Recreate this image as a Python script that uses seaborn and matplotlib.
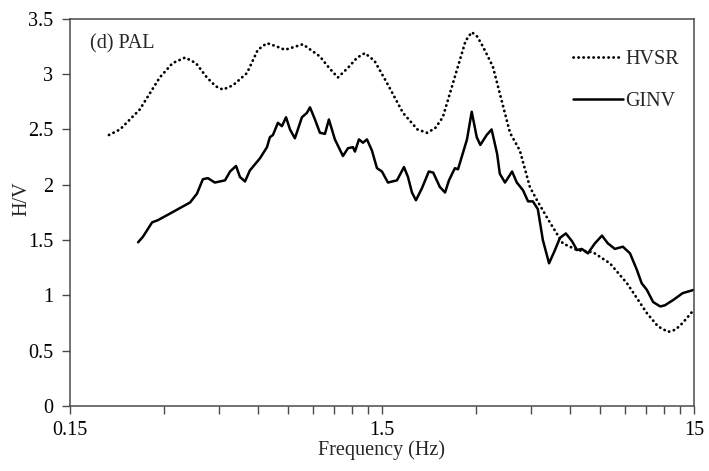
import numpy as np
import pandas as pd
import seaborn as sns
import matplotlib
matplotlib.use("Agg")
import matplotlib.pyplot as plt
from matplotlib.ticker import FixedLocator, FuncFormatter, NullFormatter
from matplotlib.lines import Line2D

# ---- data ----
hvsr_freq = [0.20, 0.217, 0.251, 0.291, 0.32, 0.351, 0.38, 0.412, 0.44, 0.464,
             0.50, 0.554, 0.60, 0.642, 0.69, 0.733, 0.837, 0.949, 1.02, 1.084,
             1.17, 1.25, 1.323, 1.42, 1.557, 1.752, 1.95, 2.09, 2.22, 2.35,
             2.61, 2.78, 2.91, 3.03, 3.16, 3.40, 3.86, 4.15, 4.47, 4.71,
             5.18, 5.70, 6.33, 7.12, 8.07, 9.15, 10.6, 11.5, 12.4, 13.1,
             13.8, 15.0]
hvsr_val = [2.45, 2.50, 2.68, 2.97, 3.10, 3.15, 3.10, 2.97, 2.89, 2.86,
            2.90, 3.01, 3.22, 3.28, 3.25, 3.22, 3.27, 3.16, 3.05, 2.97,
            3.06, 3.15, 3.19, 3.12, 2.92, 2.65, 2.50, 2.47, 2.51, 2.61,
            3.04, 3.30, 3.38, 3.34, 3.25, 3.07, 2.47, 2.31, 1.98, 1.86,
            1.66, 1.47, 1.41, 1.39, 1.29, 1.11, 0.84, 0.72, 0.67, 0.69,
            0.75, 0.87]

ginv_freq = [0.248, 0.257, 0.275, 0.287, 0.314, 0.338, 0.364, 0.383, 0.400, 0.415,
             0.437, 0.471, 0.489, 0.511, 0.526, 0.546, 0.566, 0.610, 0.642, 0.656,
             0.671, 0.696, 0.717, 0.739, 0.761, 0.789, 0.831, 0.862, 0.882, 0.915,
             0.949, 0.985, 1.014, 1.060, 1.125, 1.167, 1.211, 1.229, 1.266, 1.304,
             1.343, 1.393, 1.446, 1.50, 1.568, 1.676, 1.765, 1.818, 1.872, 1.928,
             2.016, 2.12, 2.19, 2.30, 2.39, 2.46, 2.57, 2.63, 2.81, 2.91,
             3.02, 3.10, 3.25, 3.37, 3.51, 3.58, 3.72, 3.92, 4.06, 4.25,
             4.41, 4.57, 4.74, 4.92, 5.15, 5.38, 5.58, 5.83, 6.10, 6.33,
             6.56, 6.86, 7.22, 7.61, 7.95, 8.37, 8.88, 9.36, 9.85, 10.2,
             10.6, 11.1, 11.7, 12.1, 12.9, 13.8, 15.0]
ginv_val = [1.48, 1.53, 1.66, 1.68, 1.74, 1.79, 1.84, 1.92, 2.05, 2.06,
            2.02, 2.04, 2.12, 2.17, 2.07, 2.03, 2.13, 2.24, 2.34, 2.43,
            2.45, 2.56, 2.53, 2.61, 2.50, 2.42, 2.61, 2.65, 2.70, 2.59,
            2.47, 2.46, 2.59, 2.41, 2.26, 2.33, 2.34, 2.30, 2.41, 2.38,
            2.41, 2.31, 2.15, 2.12, 2.02, 2.04, 2.16, 2.07, 1.93, 1.86,
            1.97, 2.12, 2.11, 1.98, 1.93, 2.04, 2.15, 2.14, 2.41, 2.66,
            2.43, 2.36, 2.45, 2.50, 2.28, 2.10, 2.02, 2.12, 2.02, 1.95,
            1.85, 1.85, 1.78, 1.50, 1.29, 1.41, 1.52, 1.56, 1.49, 1.41,
            1.42, 1.38, 1.47, 1.54, 1.47, 1.42, 1.44, 1.38, 1.23, 1.11,
            1.05, 0.94, 0.90, 0.91, 0.96, 1.02, 1.05]

x_major = [0.15, 1.5, 15]
y_ticks = [0, 0.5, 1, 1.5, 2, 2.5, 3, 3.5]
series_names = ["HVSR", "GINV"]
panel_label = "(d) PAL"

# ---- style ----
sns.set_style("ticks")
plt.rcParams["font.family"] = ["Liberation Serif", "DejaVu Serif"]
FS = 14.5
plt.rcParams["font.size"] = FS

fig = plt.figure(figsize=(7.09, 4.71), dpi=100)
ax = fig.add_axes([0.0987, 0.138, 0.880, 0.822])

hv = pd.DataFrame({"f": hvsr_freq, "v": hvsr_val})
gi = pd.DataFrame({"f": ginv_freq, "v": ginv_val})

dot_style = (0, (0.1, 1.7))
dot_lw = 2.0
solid_lw = 1.8
sns.lineplot(data=hv, x="f", y="v", ax=ax, color="black", linewidth=dot_lw,
             linestyle=dot_style, dash_capstyle="round", sort=False,
             estimator=None)
sns.lineplot(data=gi, x="f", y="v", ax=ax, color="black", linewidth=solid_lw,
             sort=False, estimator=None, solid_joinstyle="round")

ax.set_xscale("log")
ax.set_xlim(0.15, 15)
ax.set_ylim(0, 3.5)

minor = [k * 0.15 for k in range(2, 10)] + [k * 1.5 for k in range(2, 10)]
ax.xaxis.set_major_locator(FixedLocator(x_major))
ax.xaxis.set_major_formatter(FuncFormatter(lambda v, p: f"{v:g}"))
ax.xaxis.set_minor_locator(FixedLocator(minor))
ax.xaxis.set_minor_formatter(NullFormatter())
ax.yaxis.set_major_locator(FixedLocator(y_ticks))
ax.yaxis.set_major_formatter(FuncFormatter(lambda v, p: f"{v:g}"))

spine_c = "#4a4a4a"
for s in ax.spines.values():
    s.set_color(spine_c)
    s.set_linewidth(1.1)
    s.set_visible(True)
ax.tick_params(axis="both", which="both", direction="out", length=6,
               width=1.0, color=spine_c, labelsize=FS, labelcolor="black")
ax.tick_params(axis="x", which="major", pad=5)
ax.tick_params(axis="y", which="major", pad=6)

ax.set_xlabel("Frequency (Hz)", fontsize=FS, labelpad=0)
ax.set_ylabel("H/V", fontsize=FS, va="center")
ax.yaxis.set_label_coords(-0.077, 0.535)

ax.text(0.032, 0.935, panel_label, transform=ax.transAxes, fontsize=FS,
        ha="left", va="center")

handles = [
    Line2D([], [], color="black", linewidth=dot_lw, linestyle=dot_style,
           dash_capstyle="round"),
    Line2D([], [], color="black", linewidth=solid_lw),
]
ax.legend(handles, series_names, loc="upper right",
          bbox_to_anchor=(0.976, 0.92), frameon=False, borderpad=0,
          borderaxespad=0, fontsize=FS, handlelength=2.5, handletextpad=0.1,
          labelspacing=1.15)

fig.savefig("out.png", dpi=100)
